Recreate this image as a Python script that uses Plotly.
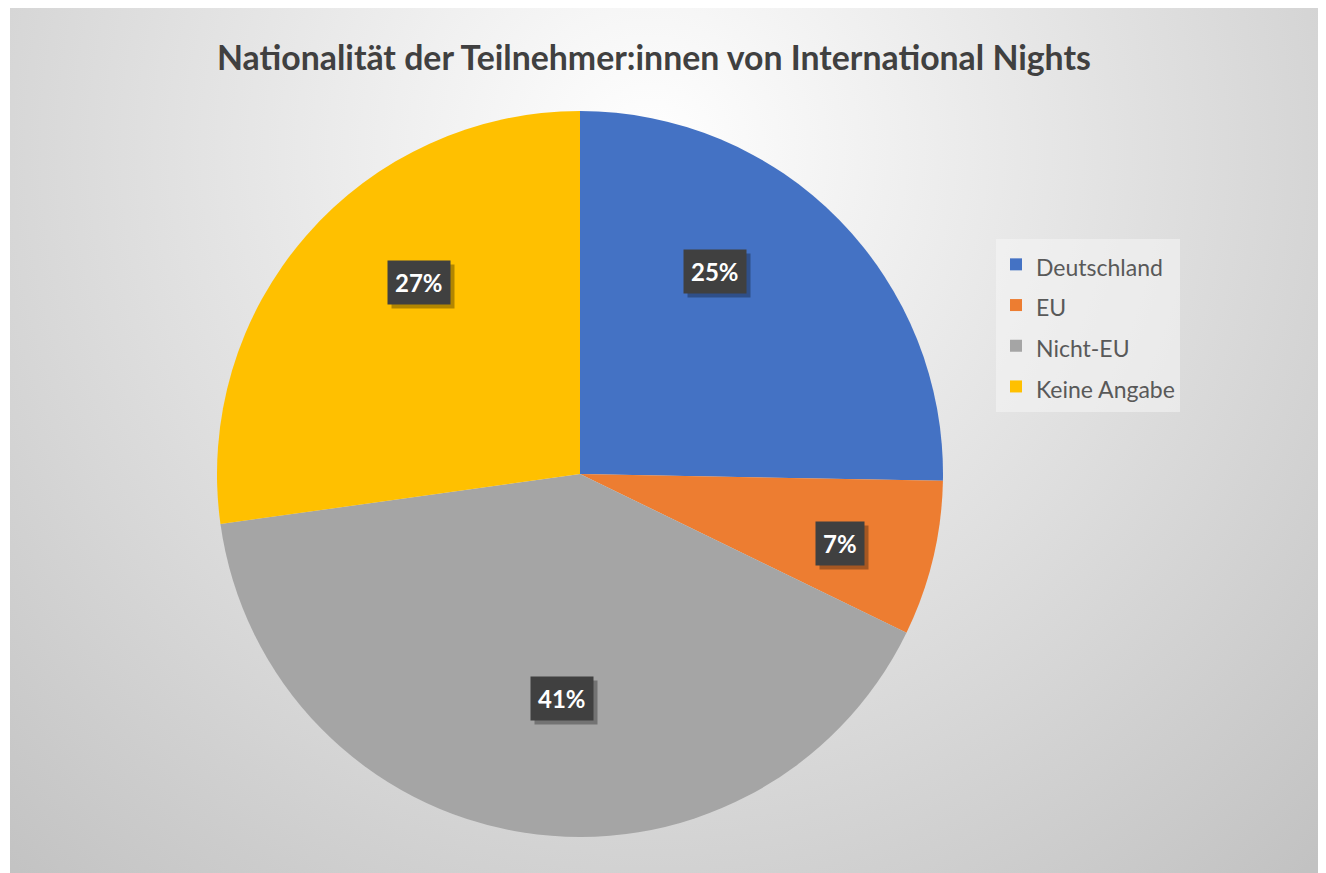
import base64
import math
import plotly.graph_objects as go

# ---- data ----
categories = ["Deutschland", "EU", "Nicht-EU", "Keine Angabe"]
shares = [25.3, 6.9, 40.6, 27.2]
colors = ["#4472C4", "#ED7D31", "#A5A5A5", "#FFC000"]
title_text = "Nationalität der Teilnehmer:innen von International Nights"

# label placement style (radius fraction, angle shift in degrees) per slice
label_rfrac = [0.67, 0.74, 0.62, 0.69]
label_shift = [-11.7, 1.4, -4.4, 9.0]

# page body margin offset (browser default 8px)
OFF = 8
W, H = 1326 - 2 * OFF, 873 - OFF
FONT = "Lato"


def fx(px):
    return (px - OFF) / W


def fy(py):
    return 1 - (py - OFF) / H


# pie geometry (reference pixels)
cx, cy, R = 580, 474, 363

# background radial gradient as svg image
bx0, by0 = 10, 8
bw, bh = 1326 - bx0, 873 - by0
svg = f'''<svg xmlns="http://www.w3.org/2000/svg" width="{bw}" height="{bh}" viewBox="0 0 {bw} {bh}">
<defs><radialGradient id="g" gradientUnits="userSpaceOnUse" cx="{650-bx0}" cy="{150-by0}" r="975">
<stop offset="0" stop-color="#ffffff"/><stop offset="1" stop-color="#c2c2c2"/></radialGradient></defs>
<rect width="{bw}" height="{bh}" fill="url(#g)"/></svg>'''
src = "data:image/svg+xml;base64," + base64.b64encode(svg.encode()).decode()

legend_labels = [f"<span style='font-size:23px'>{c}</span>" for c in categories]

fig = go.Figure()
fig.add_trace(go.Pie(
    labels=legend_labels,
    values=shares,
    sort=False,
    direction="clockwise",
    rotation=0,
    marker=dict(colors=colors, line=dict(width=0)),
    textinfo="none",
    hoverinfo="skip",
    domain=dict(x=[fx(cx - R), fx(cx + R)],
                y=[fy(cy + R), fy(cy - R)]),
))

# data labels computed from the values
total = sum(shares)
cum = 0.0
annotations = []
for i, v in enumerate(shares):
    mid = (cum + v / 2) / total * 360.0 + label_shift[i]
    cum += v
    r = R * label_rfrac[i]
    px = cx + r * math.sin(math.radians(mid))
    py = cy - r * math.cos(math.radians(mid))
    txt = f"{v / total * 100:.0f}%"
    # shadow
    annotations.append(dict(
        x=fx(px + 4), y=fy(py + 4), xref="paper", yref="paper",
        xanchor="center", yanchor="middle",
        text=f"<b>{txt}</b>", showarrow=False,
        font=dict(family=FONT, size=24, color="rgba(0,0,0,0)"),
        bgcolor="rgba(0,0,0,0.3)", borderpad=7,
    ))
    annotations.append(dict(
        x=fx(px), y=fy(py), xref="paper", yref="paper",
        xanchor="center", yanchor="middle",
        text=f"<b>{txt}</b>", showarrow=False,
        font=dict(family=FONT, size=24, color="white"),
        bgcolor="#404040", borderpad=7,
    ))

annotations.append(dict(
    x=fx(654), y=fy(57), xref="paper", yref="paper",
    text=f"<b>{title_text}</b>", showarrow=False,
    xanchor="center", yanchor="middle",
    font=dict(family=FONT, size=33.8, color="#404040"),
))

fig.update_layout(
    width=W, height=H,
    margin=dict(l=0, r=0, t=0, b=0),
    paper_bgcolor="white",
    plot_bgcolor="white",
    images=[dict(source=src, xref="paper", yref="paper",
                 x=fx(bx0), y=fy(by0), sizex=bw / W, sizey=bh / H,
                 xanchor="left", yanchor="top", sizing="stretch", layer="below")],
    showlegend=True,
    legend=dict(
        x=fx(996), y=fy(239), xanchor="left", yanchor="top",
        bgcolor="rgba(245,245,245,0.55)",
        font=dict(family=FONT, size=29, color="#595959"),
        traceorder="normal",
    ),
    annotations=annotations,
)

fig.write_html("out.html")
